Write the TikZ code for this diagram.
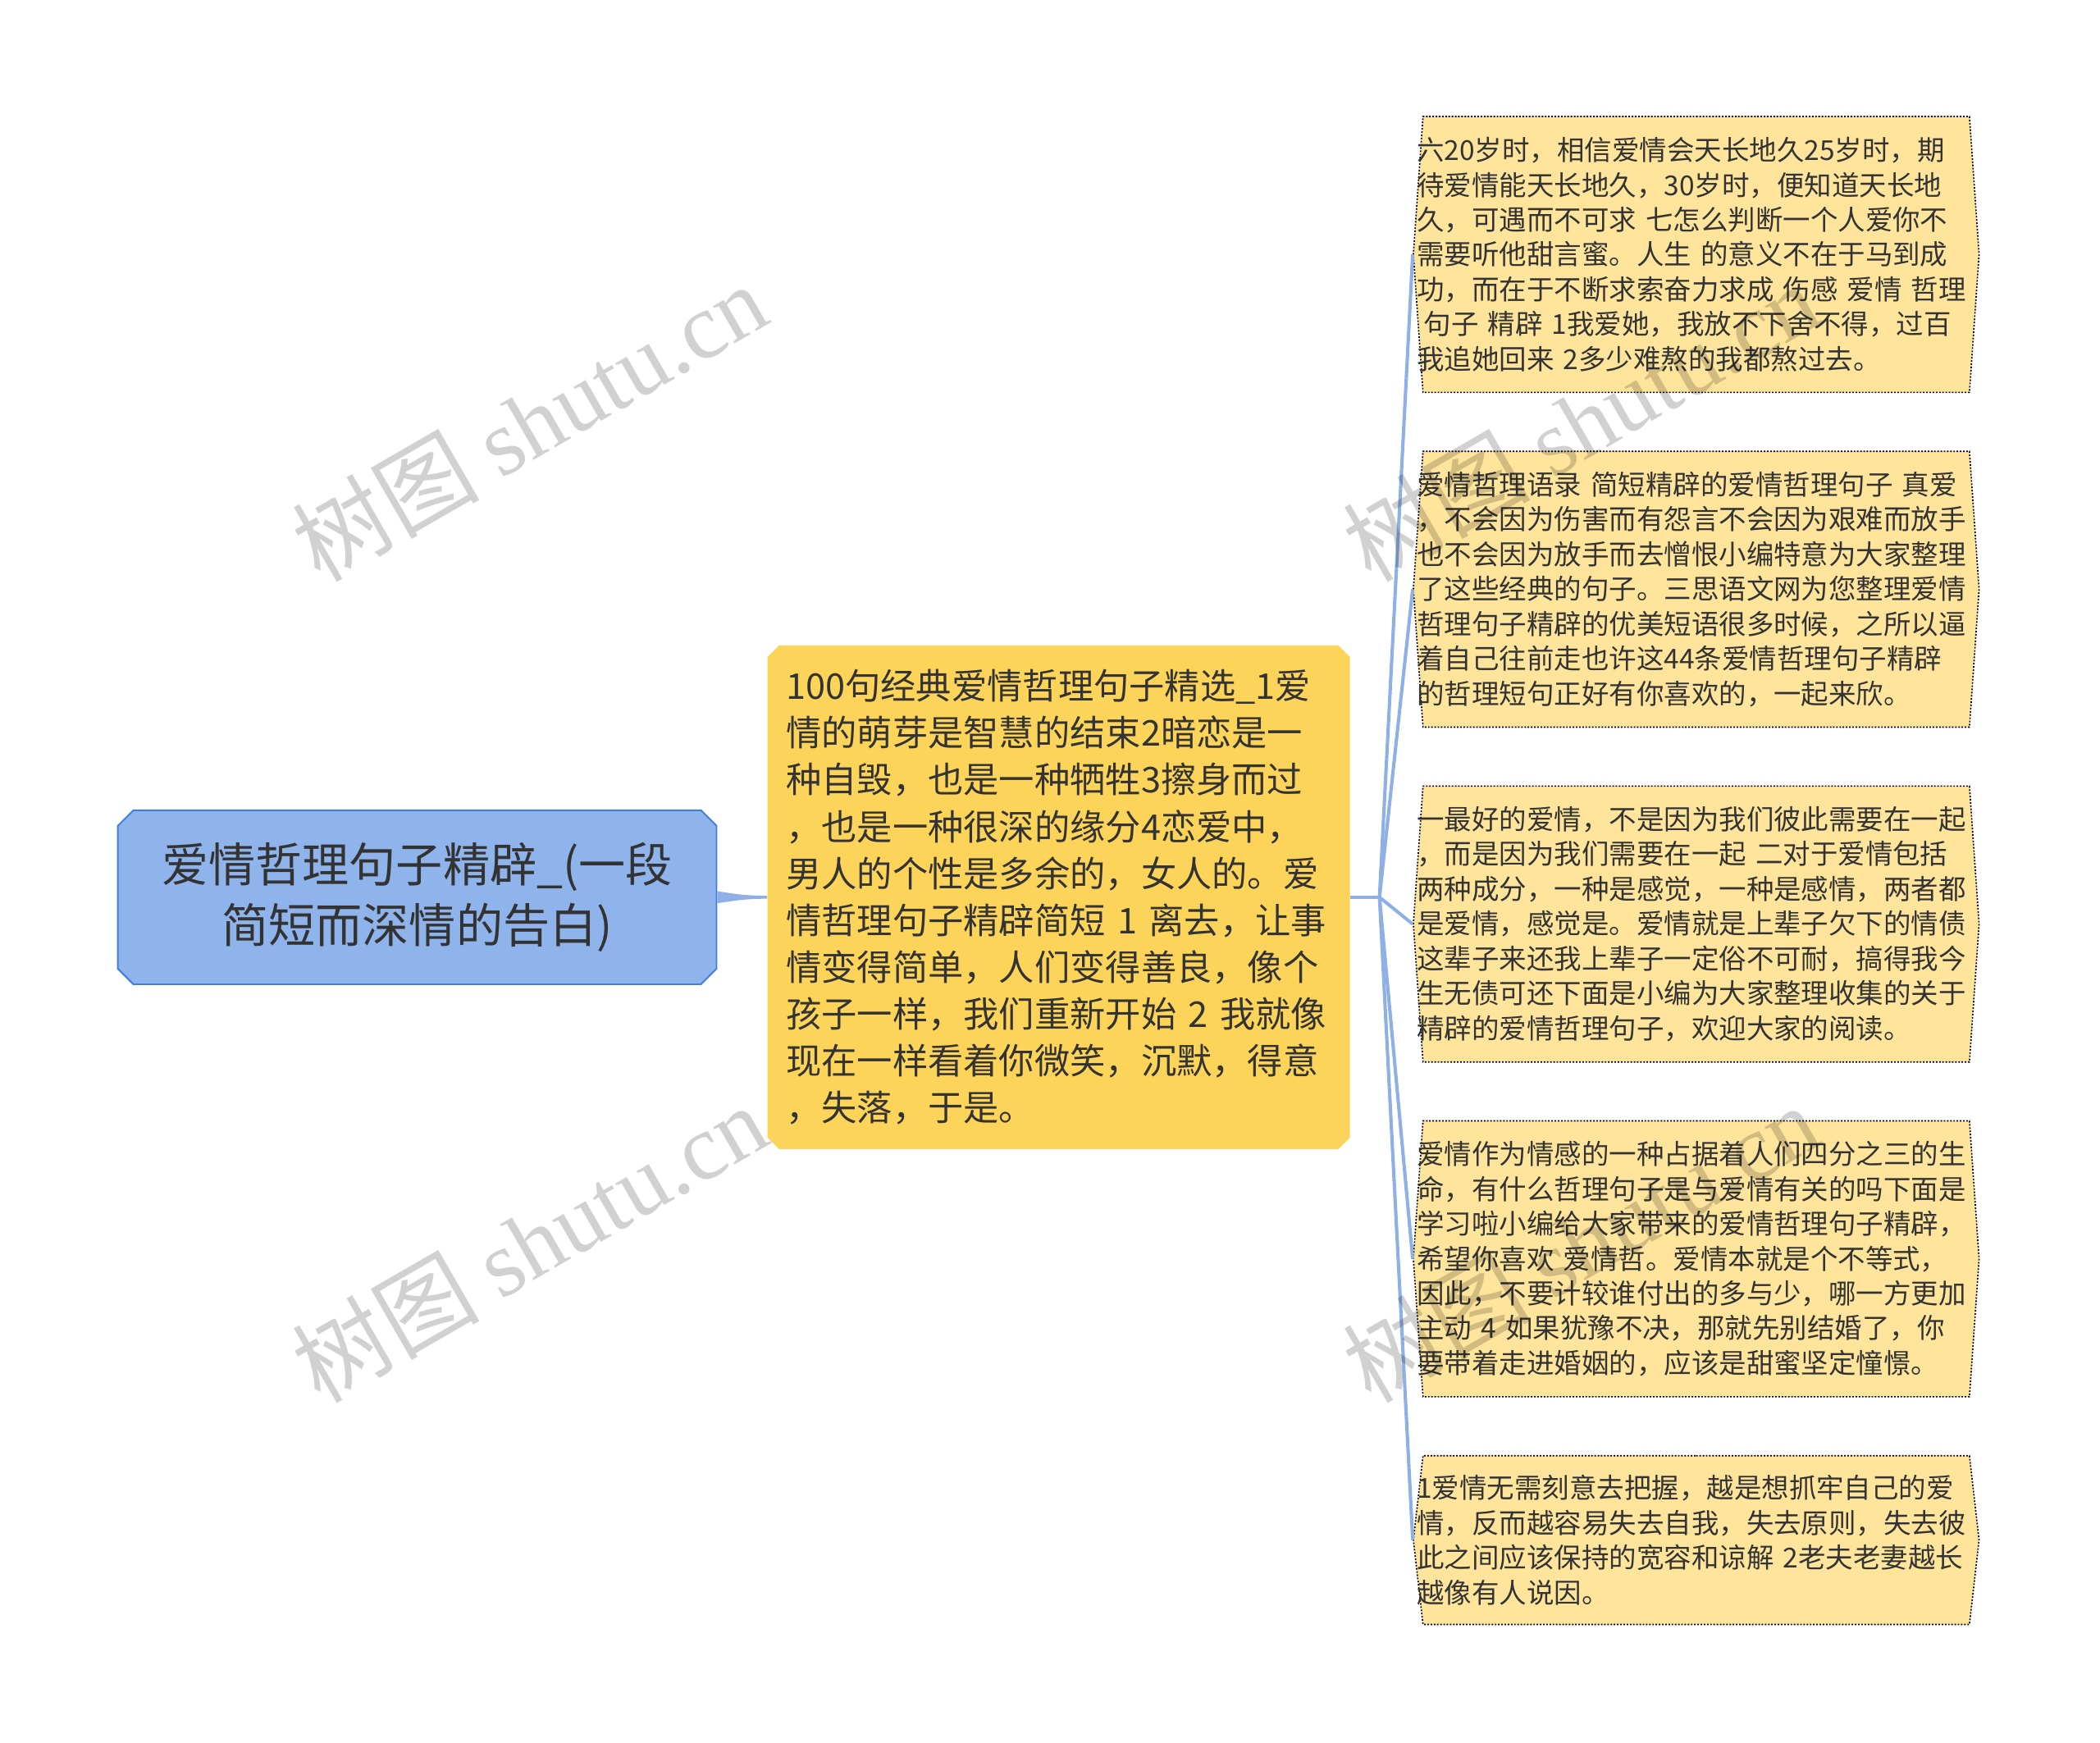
\documentclass[tikz,border=0pt]{standalone}
\usepackage{fontspec}
\setmainfont{Noto Sans CJK SC}
\newfontfamily\wmlatin{Liberation Serif}
\usepackage{tikz}
\usetikzlibrary{shapes.misc}
\usetikzlibrary{shapes.symbols}
\usetikzlibrary{calc}

\definecolor{rootfill}{HTML}{8FB4EC}
\definecolor{rootdraw}{HTML}{3F7FDB}
\definecolor{mainfill}{HTML}{FDD45A}
\definecolor{leaffill}{HTML}{FFE59C}
\definecolor{linkblue}{HTML}{8EB0E6}
\definecolor{inkgray}{HTML}{333333}

\tikzset{
  rootbox/.style={chamfered rectangle, chamfered rectangle xsep=8pt, fill=rootfill, draw=rootdraw,
    line width=1.2pt, minimum width=447pt, minimum height=130pt, inner sep=0pt,
    align=center, font=\fontsize{35}{45}\selectfont},
  mainbox/.style={chamfered rectangle, chamfered rectangle xsep=5pt, fill=mainfill,
    minimum width=435pt, minimum height=376pt, inner sep=0pt, text width=407pt,
    align=left, font=\fontsize{26.5}{35}\selectfont},
  leafbox/.style={signal, signal to=west and east, signal pointer angle=172, fill=leaffill,
    draw=black, line width=1pt, dash pattern=on 1.2pt off 1.2pt,
    minimum height=206pt, inner xsep=-4.5pt, inner ysep=0pt, text width=417pt,
    align=left, font=\fontsize{20.5}{26}\selectfont},
  shortleaf/.style={leafbox, minimum height=126pt, signal pointer angle=167},
  link/.style={draw=linkblue, line width=2.5pt},
  watermark/.style={rotate=30, text=black, text opacity=0.18, font=\fontsize{70}{70}\selectfont}
}

\begin{document}
\begin{tikzpicture}[x=1pt, y=-1pt, every node/.style={text=inkgray}]
  \useasboundingbox (0,0) rectangle (1568,1301);

  \node[rootbox] (root) at (311.5,670) {爱情哲理句子精辟\_(一段\\简短而深情的告白)};

  \node[mainbox] (main) at (790.5,670) {100句经典爱情哲理句子精选\_1爱\\
    情的萌芽是智慧的结束2暗恋是一\\
    种自毁，也是一种牺牲3擦身而过\\
    ，也是一种很深的缘分4恋爱中，\\
    男人的个性是多余的，女人的。爱\\
    情哲理句子精辟简短~1~离去，让事\\
    情变得简单，人们变得善良，像个\\
    孩子一样，我们重新开始~2~我就像\\
    现在一样看着你微笑，沉默，得意\\
    ，失落，于是。};

  \node[leafbox] (leaf1) at (1266.5,190) {六20岁时，相信爱情会天长地久25岁时，期\\
    待爱情能天长地久，30岁时，便知道天长地\\
    久，可遇而不可求~七怎么判断一个人爱你不\\
    需要听他甜言蜜。人生~的意义不在于马到成\\
    功，而在于不断求索奋力求成~伤感~爱情~哲理\\
    \hspace*{5pt}句子~精辟~1我爱她，我放不下舍不得，过百\\
    我追她回来~2多少难熬的我都熬过去。};

  \node[leafbox] (leaf2) at (1266.5,440) {爱情哲理语录~简短精辟的爱情哲理句子~真爱\\
    ，不会因为伤害而有怨言不会因为艰难而放手\\
    也不会因为放手而去憎恨小编特意为大家整理\\
    了这些经典的句子。三思语文网为您整理爱情\\
    哲理句子精辟的优美短语很多时候，之所以逼\\
    着自己往前走也许这44条爱情哲理句子精辟\\
    的哲理短句正好有你喜欢的，一起来欣。};

  \node[leafbox] (leaf3) at (1266.5,690) {一最好的爱情，不是因为我们彼此需要在一起\\
    ，而是因为我们需要在一起~二对于爱情包括\\
    两种成分，一种是感觉，一种是感情，两者都\\
    是爱情，感觉是。爱情就是上辈子欠下的情债\\
    这辈子来还我上辈子一定俗不可耐，搞得我今\\
    生无债可还下面是小编为大家整理收集的关于\\
    精辟的爱情哲理句子，欢迎大家的阅读。};

  \node[leafbox] (leaf4) at (1266.5,940) {爱情作为情感的一种占据着人们四分之三的生\\
    命，有什么哲理句子是与爱情有关的吗下面是\\
    学习啦小编给大家带来的爱情哲理句子精辟，\\
    希望你喜欢~爱情哲。爱情本就是个不等式，\\
    因此，不要计较谁付出的多与少，哪一方更加\\
    主动~4~如果犹豫不决，那就先别结婚了，你\\
    要带着走进婚姻的，应该是甜蜜坚定憧憬。};

  \node[shortleaf] (leaf5) at (1266.5,1150) {1爱情无需刻意去把握，越是想抓牢自己的爱\\
    情，反而越容易失去自我，失去原则，失去彼\\
    此之间应该保持的宽容和谅解~2老夫老妻越长\\
    越像有人说因。};

  \fill[linkblue] ($(root.east)+(0,-4.5)$) .. controls ($(root.east)+(20,-1.5)$) .. ($(main.west)+(0,-1)$)
    -- ($(main.west)+(0,1)$) .. controls ($(root.east)+(20,1.5)$) .. ($(root.east)+(0,4.5)$) -- cycle;

  \coordinate (hub) at (1030,670);
  \draw[link] (main.east) -- (hub);
  \foreach \n in {1,...,5}
    \draw[link] (hub) -- (leaf\n.west);

  \node[watermark] (wm1) at (395,315) {树图 {\wmlatin shutu.cn}};
  \node[watermark] (wm2) at (395,928) {树图 {\wmlatin shutu.cn}};
  \node[watermark] (wm3) at (1180,315) {树图 {\wmlatin shutu.cn}};
  \node[watermark] (wm4) at (1180,928) {树图 {\wmlatin shutu.cn}};
\end{tikzpicture}
\end{document}
